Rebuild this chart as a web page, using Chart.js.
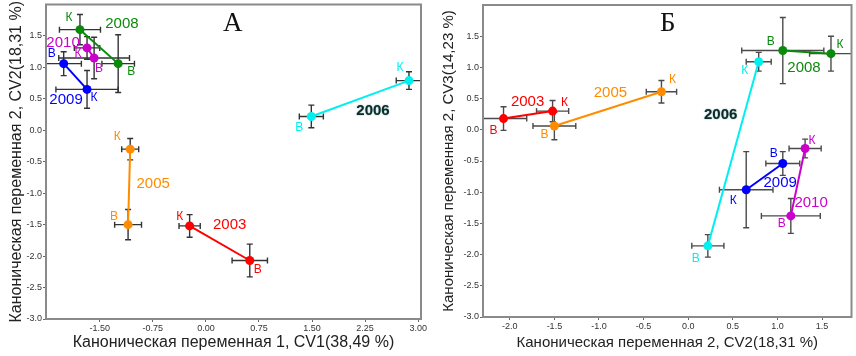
<!DOCTYPE html>
<html>
<head>
<meta charset="utf-8">
<script src="https://cdn.jsdelivr.net/npm/chart.js@4/dist/chart.umd.min.js"></script>
<style>
  body { margin: 0; background: #fff; }
  #wrapA { position: absolute; left: 0; top: 0; width: 430px; height: 356px; }
  #wrapB { position: absolute; left: 430px; top: 0; width: 426px; height: 356px; }
</style>
</head>
<body>
<div id="wrapA"><canvas id="chartA" width="430" height="356"></canvas></div>
<div id="wrapB"><canvas id="chartB" width="426" height="356"></canvas></div>
<script>
// years, each has two points: K and B
const years = ['2003', '2005', '2006', '2008', '2009', '2010'];

// canonical variable means (K / B)
const cv1K = [-0.23, -1.07, 2.87, -1.78, -1.68, -1.68];
const cv1B = [0.62, -1.10, 1.49, -1.24, -2.01, -1.58];
const cv2K = [-1.52, -0.30, 0.79, 1.60, 0.65, 1.31];
const cv2B = [-2.07, -1.50, 0.22, 1.06, 1.06, 1.15];
const cv3K = [0.30, 0.61, 1.09, 1.22, -0.96, -0.30];
const cv3B = [0.18, 0.06, -1.86, 1.27, -0.54, -1.38];

// error bar half widths
const cv1ErrK = [0.15, 0.12, 0.18, 0.29, 0.44, 0.18];
const cv1ErrB = [0.25, 0.19, 0.17, 0.23, 0.25, 0.50];
const cv2ErrK = [0.18, 0.17, 0.14, 0.24, 0.30, 0.18];
const cv2ErrB = [0.26, 0.24, 0.18, 0.46, 0.19, 0.33];
const cv3ErrK = [0.17, 0.18, 0.15, 0.28, 0.61, 0.15];
const cv3ErrB = [0.19, 0.22, 0.18, 0.53, 0.19, 0.28];

// tick labels
const yTicks = [-3.0, -2.5, -2.0, -1.5, -1.0, -0.5, 0.0, 0.5, 1.0, 1.5];
const xTicksA = [-1.50, -0.75, 0.00, 0.75, 1.50, 2.25, 3.00];
const xTicksB = [-2.0, -1.5, -1.0, -0.5, 0.0, 0.5, 1.0, 1.5];

const colors = ['#ff0000', '#ff8c00', '#00f0f0', '#0a8a0a', '#0000ff', '#cc00cc'];
const FONT = "'Liberation Sans', Arial, sans-serif";

// label offsets in px from the points: [kDx, kDy, bDx, bDy, yearDx, yearDy (from K)]
const labelOffA = [
  [-10, -9, 8, 9, 40, -1],
  [-13, -12, -14, -8, 23, 35],
  [-9, -13, -12, 11, -36, 30],
  [-11, -12, 13, 8, 42, -6],
  [7, 8, -12, -10, -21, 10],
  [-9, 6, 5, 11, -24, -5]
];
const labelOffB = [
  [12, -8, -10, 12, -25, -9],
  [11, -12, -10, 9, -51, 1],
  [-14, 9, -12, 13, -38, 53],
  [9, -9, -12, -9, -27, 14],
  [-13, 11, -9, -10, 34, -7],
  [7, -8, -9, 8, 6, 54]
];

function makePanel(id, xs, ys, letter, xTitle, yTitle, xTicks, xDec, xMin, xMax, offs, yAxisW, yTitlePad, xAxisH, titleSize, barColor) {
  const datasets = years.map((yr, i) => ({
    label: yr,
    data: [
      { x: xs.K[i], y: ys.K[i], ex: xs.eK[i], ey: ys.eK[i] },
      { x: xs.B[i], y: ys.B[i], ex: xs.eB[i], ey: ys.eB[i] }
    ],
    showLine: true,
    borderColor: colors[i],
    backgroundColor: colors[i],
    borderWidth: 2,
    pointRadius: 4.5,
    pointBackgroundColor: colors[i],
    pointBorderWidth: 0
  }));

  const deco = {
    id: 'deco',
    beforeDatasetsDraw(chart) {
      const { ctx, chartArea: a, scales: { x, y } } = chart;
      ctx.save();
      ctx.beginPath();
      ctx.rect(a.left, a.top, a.right - a.left, a.bottom - a.top);
      ctx.clip();
      ctx.strokeStyle = barColor;
      ctx.lineWidth = 1.4;
      chart.data.datasets.forEach(ds => {
        ds.data.forEach(p => {
          const px = x.getPixelForValue(p.x), py = y.getPixelForValue(p.y);
          const x0 = x.getPixelForValue(p.x - p.ex), x1 = x.getPixelForValue(p.x + p.ex);
          const y0 = y.getPixelForValue(p.y - p.ey), y1 = y.getPixelForValue(p.y + p.ey);
          ctx.beginPath();
          ctx.moveTo(x0, py); ctx.lineTo(x1, py);
          ctx.moveTo(x0, py - 3); ctx.lineTo(x0, py + 3);
          ctx.moveTo(x1, py - 3); ctx.lineTo(x1, py + 3);
          ctx.moveTo(px, y0); ctx.lineTo(px, y1);
          ctx.moveTo(px - 3, y0); ctx.lineTo(px + 3, y0);
          ctx.moveTo(px - 3, y1); ctx.lineTo(px + 3, y1);
          ctx.stroke();
        });
      });
      ctx.restore();
    },
    afterDatasetsDraw(chart) {
      const { ctx, chartArea: a, scales: { x, y } } = chart;
      ctx.save();
      ctx.strokeStyle = '#8a8a8a';
      ctx.lineWidth = 2;
      ctx.strokeRect(a.left, a.top, a.right - a.left, a.bottom - a.top);
      ctx.textAlign = 'center';
      ctx.textBaseline = 'middle';
      chart.data.datasets.forEach((ds, i) => {
        const o = offs[i];
        const kx = x.getPixelForValue(ds.data[0].x), ky = y.getPixelForValue(ds.data[0].y);
        const bx = x.getPixelForValue(ds.data[1].x), by = y.getPixelForValue(ds.data[1].y);
        ctx.fillStyle = colors[i];
        ctx.font = '12px ' + FONT;
        ctx.fillText('К', kx + o[0], ky + o[1]);
        ctx.fillText('В', bx + o[2], by + o[3]);
        if (ds.label === '2006') {
          ctx.font = 'bold 15px ' + FONT;
          ctx.fillStyle = '#0d2b2b';
          ctx.shadowColor = 'rgba(0,90,90,0.6)';
          ctx.shadowBlur = 1.5;
        } else {
          ctx.font = '15px ' + FONT;
        }
        ctx.fillText(ds.label, kx + o[4], ky + o[5]);
        ctx.shadowColor = 'transparent';
        ctx.shadowBlur = 0;
      });
      // panel letter
      ctx.fillStyle = '#111';
      ctx.font = "27px 'Liberation Serif', 'DejaVu Serif', serif";
      ctx.textAlign = 'left';
      ctx.fillText(letter, a.left + 177, a.top + 19);
      ctx.restore();
    }
  };

  return new Chart(document.getElementById(id), {
    type: 'scatter',
    data: { datasets },
    options: {
      responsive: false,
      animation: false,
      layout: { padding: { left: 0, right: id === 'chartA' ? 9 : 2, top: id === 'chartA' ? 4 : 5, bottom: 0 } },
      plugins: { legend: { display: false }, tooltip: { enabled: false } },
      scales: {
        x: {
          type: 'linear',
          min: xMin,
          max: xMax,
          afterBuildTicks: s => { s.ticks = xTicks.map(v => ({ value: v })); },
          afterFit: s => { s.height = xAxisH; s.paddingLeft = 0; s.paddingRight = 0; },
          grid: { drawOnChartArea: false, drawTicks: true, tickLength: 3, color: '#666' },
          border: { display: false },
          ticks: {
            padding: 1,
            color: '#333',
            font: { family: FONT, size: 9 },
            maxRotation: 0,
            callback: v => v.toFixed(xDec)
          },
          title: {
            display: true,
            text: xTitle,
            color: '#222',
            font: { family: FONT, size: titleSize },
            padding: { top: 0, bottom: 4 }
          }
        },
        y: {
          type: 'linear',
          min: -3.0,
          max: 2.0,
          afterBuildTicks: s => { s.ticks = yTicks.map(v => ({ value: v })); },
          afterFit: s => { s.width = yAxisW; s.paddingTop = 0; s.paddingBottom = 0; },
          grid: { drawOnChartArea: false, drawTicks: true, tickLength: 3, color: '#666' },
          border: { display: false },
          ticks: {
            padding: 1,
            color: '#333',
            font: { family: FONT, size: 9 },
            callback: v => v.toFixed(1)
          },
          title: {
            display: true,
            text: yTitle,
            color: '#222',
            font: { family: FONT, size: titleSize },
            padding: { top: yTitlePad, bottom: 0 }
          }
        }
      }
    },
    plugins: [deco]
  });
}

makePanel('chartA',
  { K: cv1K, B: cv1B, eK: cv1ErrK, eB: cv1ErrB },
  { K: cv2K, B: cv2B, eK: cv2ErrK, eB: cv2ErrB },
  'А', 'Каноническая переменная 1, CV1(38,49 %)', 'Каноническая переменная 2, CV2(18,31 %)',
  xTicksA, 2, -2.26, 3.04, labelOffA, 46, 7, 37, 16, '#333');

makePanel('chartB',
  { K: cv2K, B: cv2B, eK: cv2ErrK, eB: cv2ErrB },
  { K: cv3K, B: cv3B, eK: cv3ErrK, eB: cv3ErrB },
  'Б', 'Каноническая переменная 2, CV2(18,31 %)', 'Каноническая переменная 2, CV3(14,23 %)',
  xTicksB, 1, -2.30, 1.83, labelOffB, 53, 10, 39, 15, '#4a4a4a');
</script>
</body>
</html>
